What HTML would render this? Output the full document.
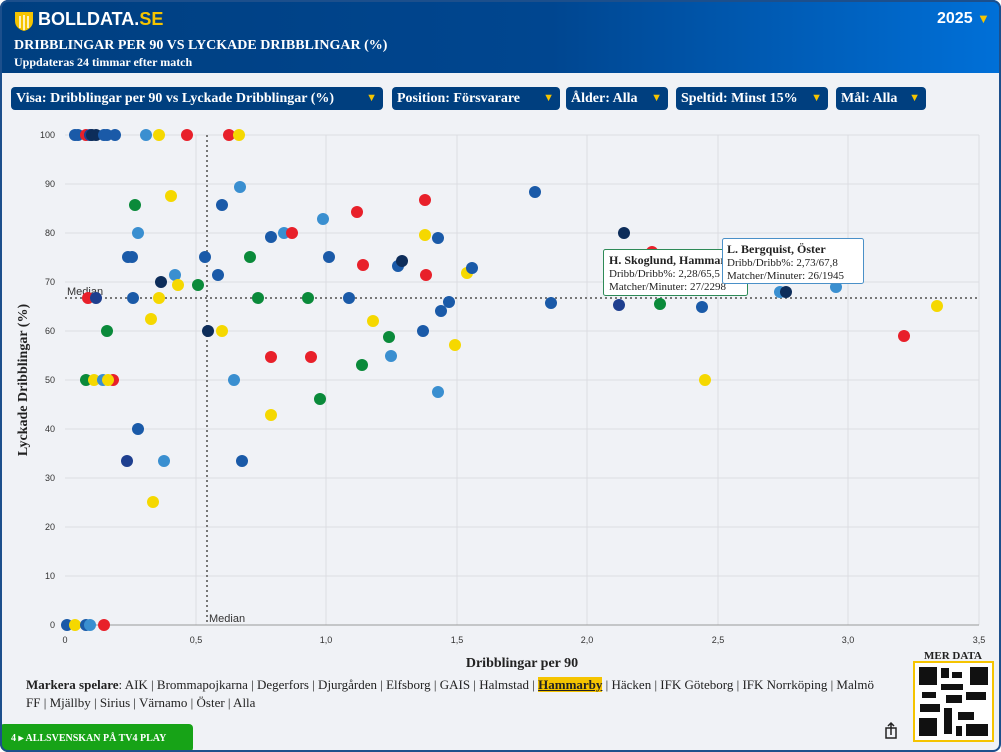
<!DOCTYPE html>
<html><head><meta charset="utf-8"><style>
*{margin:0;padding:0;box-sizing:border-box}
body{width:1001px;height:752px;overflow:hidden;background:#fff;font-family:"Liberation Serif",serif}
#card{position:absolute;left:0;top:0;width:1001px;height:752px;border-radius:8px;background:#f0f2f6;overflow:hidden}
#bd{position:absolute;left:0;top:0;width:1001px;height:752px;border:2px solid #1c4f8c;border-radius:8px;pointer-events:none}
#hdr{position:absolute;left:0;top:0;width:1001px;height:73px;background:linear-gradient(90deg,#003f80 0%,#004690 55%,#0070d8 100%)}
.t{position:absolute;color:#fff;font-weight:bold;white-space:nowrap}
.dd{position:absolute;top:87px;height:23px;background:#003f7f;border-radius:4px;color:#fff;font-weight:bold;font-size:14px;line-height:23px;padding-left:5px;white-space:nowrap}
.dd span{color:#f5c400;position:absolute;right:6px;font-size:11px}
#leg{position:absolute;left:26px;top:676px;width:856px;font-size:13px;line-height:18px;color:#222}
</style></head><body><div id="card">
<div id="hdr">
<svg style="position:absolute;left:14px;top:10px" width="20" height="22"><path d="M1 2h18v9c0 6-5 9-9 10C6 20 1 17 1 11z" fill="#f5c400"/><path d="M6 6v12M10 5v15M14 6v12" stroke="#fff" stroke-width="1.5"/></svg>
<div class="t" style="left:38px;top:9px;font-family:'Liberation Sans',sans-serif;font-size:18px">BOLLDATA.<span style="color:#f5c400">SE</span></div>
<div class="t" style="left:14px;top:38px;font-size:14px">DRIBBLINGAR PER 90 VS LYCKADE DRIBBLINGAR (%)</div>
<div class="t" style="left:14px;top:55px;font-size:12px">Uppdateras 24 timmar efter match</div>
<div class="t" style="left:937px;top:10px;font-family:'Liberation Sans',sans-serif;font-size:16px">2025 <span style="color:#f5c400;font-size:13px">▼</span></div>
</div>
<div class="dd" style="left:11px;width:372px">Visa: Dribblingar per 90 vs Lyckade Dribblingar (%)<span>▼</span></div>
<div class="dd" style="left:392px;width:168px">Position: Försvarare<span>▼</span></div>
<div class="dd" style="left:566px;width:102px">Ålder: Alla<span>▼</span></div>
<div class="dd" style="left:676px;width:152px">Speltid: Minst 15%<span>▼</span></div>
<div class="dd" style="left:836px;width:90px">Mål: Alla<span>▼</span></div>
<svg style="position:absolute;left:0;top:0" width="1001" height="752" font-family="Liberation Sans,sans-serif">
<g stroke="#dcdde2" stroke-width="1">
<line x1="65" y1="576" x2="979" y2="576"/><line x1="65" y1="527" x2="979" y2="527"/><line x1="65" y1="478" x2="979" y2="478"/><line x1="65" y1="429" x2="979" y2="429"/><line x1="65" y1="380" x2="979" y2="380"/><line x1="65" y1="331" x2="979" y2="331"/><line x1="65" y1="282" x2="979" y2="282"/><line x1="65" y1="233" x2="979" y2="233"/><line x1="65" y1="184" x2="979" y2="184"/><line x1="65" y1="135" x2="979" y2="135"/>
<line x1="196" y1="135" x2="196" y2="625"/><line x1="326" y1="135" x2="326" y2="625"/><line x1="457" y1="135" x2="457" y2="625"/><line x1="587" y1="135" x2="587" y2="625"/><line x1="718" y1="135" x2="718" y2="625"/><line x1="848" y1="135" x2="848" y2="625"/><line x1="979" y1="135" x2="979" y2="625"/>
</g>
<line x1="65" y1="625" x2="979" y2="625" stroke="#999"/>
<line x1="65" y1="298" x2="979" y2="298" stroke="#777" stroke-width="2" stroke-dasharray="2,3"/>
<line x1="207" y1="135" x2="207" y2="625" stroke="#777" stroke-width="2" stroke-dasharray="2,3"/>
<text x="67" y="295" font-size="11" fill="#333">Median</text>
<text x="209" y="622" font-size="11" fill="#333">Median</text>
<g font-size="9" fill="#333" text-anchor="end">
<text x="55" y="628">0</text><text x="55" y="579">10</text><text x="55" y="530">20</text><text x="55" y="481">30</text><text x="55" y="432">40</text><text x="55" y="383">50</text><text x="55" y="334">60</text><text x="55" y="285">70</text><text x="55" y="236">80</text><text x="55" y="187">90</text><text x="55" y="138">100</text>
</g>
<g font-size="9" fill="#333" text-anchor="middle">
<text x="65" y="643">0</text><text x="196" y="643">0,5</text><text x="326" y="643">1,0</text><text x="457" y="643">1,5</text><text x="587" y="643">2,0</text><text x="718" y="643">2,5</text><text x="848" y="643">3,0</text><text x="979" y="643">3,5</text>
</g>
<text x="522" y="667" font-family="Liberation Serif,serif" font-weight="bold" font-size="14" text-anchor="middle" fill="#222">Dribblingar per 90</text>
<text transform="translate(27,380) rotate(-90)" font-family="Liberation Serif,serif" font-weight="bold" font-size="14" text-anchor="middle" fill="#222">Lyckade Dribblingar (%)</text>
<g>
<circle cx="75" cy="135" r="6" fill="#1a5aa8"/><circle cx="78" cy="135" r="6" fill="#1a5aa8"/><circle cx="86" cy="135" r="6" fill="#e8202a"/><circle cx="90" cy="135" r="6" fill="#1e3f8f"/><circle cx="92" cy="135" r="6" fill="#0d2d5a"/><circle cx="96" cy="135" r="6" fill="#0d2d5a"/><circle cx="104" cy="135" r="6" fill="#1a5aa8"/><circle cx="107" cy="135" r="6" fill="#1a5aa8"/><circle cx="115" cy="135" r="6" fill="#1a5aa8"/><circle cx="146" cy="135" r="6" fill="#3a8fd0"/><circle cx="159" cy="135" r="6" fill="#f5d800"/><circle cx="187" cy="135" r="6" fill="#e8202a"/><circle cx="229" cy="135" r="6" fill="#e8202a"/><circle cx="239" cy="135" r="6" fill="#f5d800"/>
<circle cx="135" cy="205" r="6" fill="#0a8a3a"/><circle cx="138" cy="233" r="6" fill="#3a8fd0"/><circle cx="171" cy="196" r="6" fill="#f5d800"/><circle cx="222" cy="205" r="6" fill="#1a5aa8"/><circle cx="240" cy="187" r="6" fill="#3a8fd0"/><circle cx="271" cy="237" r="6" fill="#1a5aa8"/><circle cx="284" cy="233" r="6" fill="#3a8fd0"/><circle cx="292" cy="233" r="6" fill="#e8202a"/><circle cx="323" cy="219" r="6" fill="#3a8fd0"/><circle cx="357" cy="212" r="6" fill="#e8202a"/><circle cx="425" cy="200" r="6" fill="#e8202a"/><circle cx="535" cy="192" r="6" fill="#1a5aa8"/><circle cx="624" cy="233" r="6" fill="#0d2d5a"/><circle cx="652" cy="252" r="6" fill="#e8202a"/>
<circle cx="128" cy="257" r="6" fill="#1a5aa8"/><circle cx="132" cy="257" r="6" fill="#1a5aa8"/><circle cx="175" cy="275" r="6" fill="#3a8fd0"/><circle cx="205" cy="257" r="6" fill="#1a5aa8"/><circle cx="250" cy="257" r="6" fill="#0a8a3a"/><circle cx="218" cy="275" r="6" fill="#1a5aa8"/><circle cx="161" cy="282" r="6" fill="#0d2d5a"/><circle cx="178" cy="285" r="6" fill="#f5d800"/><circle cx="198" cy="285" r="6" fill="#0a8a3a"/><circle cx="329" cy="257" r="6" fill="#1a5aa8"/><circle cx="363" cy="265" r="6" fill="#e8202a"/><circle cx="398" cy="266" r="6" fill="#1a5aa8"/><circle cx="402" cy="261" r="6" fill="#0d2d5a"/><circle cx="426" cy="275" r="6" fill="#e8202a"/><circle cx="425" cy="235" r="6" fill="#f5d800"/><circle cx="438" cy="238" r="6" fill="#1a5aa8"/><circle cx="467" cy="273" r="6" fill="#f5d800"/><circle cx="472" cy="268" r="6" fill="#1a5aa8"/>
<circle cx="88" cy="298" r="6" fill="#e8202a"/><circle cx="96" cy="298" r="6" fill="#1e3f8f"/><circle cx="133" cy="298" r="6" fill="#1a5aa8"/><circle cx="159" cy="298" r="6" fill="#f5d800"/><circle cx="258" cy="298" r="6" fill="#0a8a3a"/><circle cx="308" cy="298" r="6" fill="#0a8a3a"/><circle cx="349" cy="298" r="6" fill="#1a5aa8"/><circle cx="449" cy="302" r="6" fill="#1a5aa8"/><circle cx="441" cy="311" r="6" fill="#1a5aa8"/><circle cx="551" cy="303" r="6" fill="#1a5aa8"/><circle cx="619" cy="305" r="6" fill="#1e3f8f"/><circle cx="660" cy="304" r="6" fill="#0a8a3a"/><circle cx="702" cy="307" r="6" fill="#1a5aa8"/><circle cx="780" cy="292" r="6" fill="#3a8fd0"/><circle cx="786" cy="292" r="6" fill="#0d2d5a"/><circle cx="836" cy="287" r="6" fill="#3a8fd0"/><circle cx="937" cy="306" r="6" fill="#f5d800"/><circle cx="904" cy="336" r="6" fill="#e8202a"/>
<circle cx="107" cy="331" r="6" fill="#0a8a3a"/><circle cx="151" cy="319" r="6" fill="#f5d800"/><circle cx="208" cy="331" r="6" fill="#0d2d5a"/><circle cx="222" cy="331" r="6" fill="#f5d800"/><circle cx="373" cy="321" r="6" fill="#f5d800"/><circle cx="389" cy="337" r="6" fill="#0a8a3a"/><circle cx="423" cy="331" r="6" fill="#1a5aa8"/><circle cx="455" cy="345" r="6" fill="#f5d800"/>
<circle cx="86" cy="380" r="6" fill="#0a8a3a"/><circle cx="94" cy="380" r="6" fill="#f5d800"/><circle cx="103" cy="380" r="6" fill="#3a8fd0"/><circle cx="113" cy="380" r="6" fill="#e8202a"/><circle cx="108" cy="380" r="6" fill="#f5d800"/><circle cx="271" cy="357" r="6" fill="#e8202a"/><circle cx="311" cy="357" r="6" fill="#e8202a"/><circle cx="362" cy="365" r="6" fill="#0a8a3a"/><circle cx="391" cy="356" r="6" fill="#3a8fd0"/><circle cx="234" cy="380" r="6" fill="#3a8fd0"/><circle cx="705" cy="380" r="6" fill="#f5d800"/>
<circle cx="271" cy="415" r="6" fill="#f5d800"/><circle cx="320" cy="399" r="6" fill="#0a8a3a"/><circle cx="438" cy="392" r="6" fill="#3a8fd0"/>
<circle cx="138" cy="429" r="6" fill="#1a5aa8"/><circle cx="127" cy="461" r="6" fill="#1e3f8f"/><circle cx="164" cy="461" r="6" fill="#3a8fd0"/><circle cx="242" cy="461" r="6" fill="#1a5aa8"/><circle cx="153" cy="502" r="6" fill="#f5d800"/>
<circle cx="67" cy="625" r="6" fill="#1a5aa8"/><circle cx="75" cy="625" r="6" fill="#f5d800"/><circle cx="86" cy="625" r="6" fill="#1a5aa8"/><circle cx="90" cy="625" r="6" fill="#3a8fd0"/><circle cx="104" cy="625" r="6" fill="#e8202a"/>
</g>
<g font-family="Liberation Serif,serif" font-size="11" fill="#222">
<rect x="603.5" y="249.5" width="144" height="46" rx="2" fill="#fff" stroke="#2e8a57"/>
<text x="609" y="264" font-weight="bold" font-size="12">H. Skoglund, Hammarby</text>
<text x="609" y="277">Dribb/Dribb%: 2,28/65,5</text>
<text x="609" y="290">Matcher/Minuter: 27/2298</text>
<rect x="722.5" y="238.5" width="141" height="45" rx="2" fill="#fff" stroke="#4a90c8"/>
<text x="727" y="253" font-weight="bold" font-size="12">L. Bergquist, Öster</text>
<text x="727" y="266">Dribb/Dribb%: 2,73/67,8</text>
<text x="727" y="279">Matcher/Minuter: 26/1945</text>
</g>
<text x="953" y="659" font-family="Liberation Serif,serif" font-weight="bold" font-size="11" text-anchor="middle" fill="#222">MER DATA</text>
<rect x="914" y="662" width="79" height="79" fill="#fff" stroke="#f5c400" stroke-width="2"/>
<g fill="#111"><rect x="919" y="667" width="18" height="18"/><rect x="970" y="667" width="18" height="18"/><rect x="919" y="718" width="18" height="18"/>
<rect x="941" y="668" width="8" height="10"/><rect x="952" y="672" width="10" height="6"/><rect x="941" y="684" width="22" height="6"/><rect x="922" y="692" width="14" height="6"/><rect x="946" y="695" width="16" height="8"/><rect x="966" y="692" width="20" height="8"/><rect x="920" y="704" width="20" height="8"/><rect x="944" y="708" width="8" height="26"/><rect x="958" y="712" width="16" height="8"/><rect x="966" y="724" width="22" height="12"/><rect x="956" y="726" width="6" height="10"/></g>
<rect x="0" y="724" width="193" height="28" rx="4" fill="#17a317"/>
<text x="11" y="741" font-family="Liberation Serif,serif" font-weight="bold" font-size="10" fill="#fff">4 ▸ ALLSVENSKAN PÅ TV4 PLAY</text>
<path d="M886 728h10v10h-10z" fill="none" stroke="#222" stroke-width="1.5"/><path d="M891 735v-12M888 726l3-3 3 3" fill="none" stroke="#222" stroke-width="1.5"/>
</svg>
<div id="leg"><b>Markera spelare</b>: AIK | Brommapojkarna | Degerfors | Djurgården | Elfsborg | GAIS | Halmstad | <b style="background:#f5c400;text-decoration:underline">Hammarby</b> | Häcken | IFK Göteborg | IFK Norrköping | Malmö FF | Mjällby | Sirius | Värnamo | Öster | Alla</div>
</div><div id="bd"></div></body></html>
